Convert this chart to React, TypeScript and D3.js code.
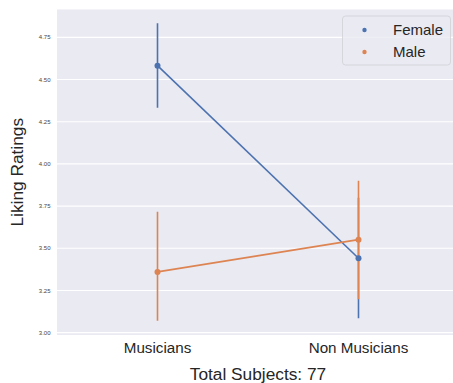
import React from "react";
import * as d3 from "d3";

const categories = ["Musicians", "Non Musicians"];
const seriesNames = ["Female", "Male"];
const femaleMeans = [4.582, 3.441];
const femaleLow = [4.333, 3.085];
const femaleHigh = [4.833, 3.80];
const maleMeans = [3.36, 3.551];
const maleLow = [3.071, 3.198];
const maleHigh = [3.717, 3.90];
const yTicks = [3.0, 3.25, 3.5, 3.75, 4.0, 4.25, 4.5, 4.75];
const colors = ["#4C72B0", "#DD8452"];

const W = 453;
const H = 383;
const left = 57;
const right = 459;
const top = 9.5;
const bottom = 335;

export default function App() {
  const x = d3.scaleBand<string>().domain(categories).range([left, right]).padding(0);
  const y = d3.scaleLinear().domain([2.986, 4.915]).range([bottom, top]);
  const cx = (c: string) => (x(c) as number) + x.bandwidth() / 2;
  const series = [
    { name: seriesNames[0], means: femaleMeans, lo: femaleLow, hi: femaleHigh, color: colors[0] },
    { name: seriesNames[1], means: maleMeans, lo: maleLow, hi: maleHigh, color: colors[1] },
  ];
  const line = d3
    .line<number>()
    .x((_, i) => cx(categories[i]))
    .y((d) => y(d));
  const font = "'Liberation Sans', Arial, sans-serif";
  return (
    <svg
      width={W}
      height={H}
      style={{ position: "absolute", left: 0, top: 0, background: "#fff" }}
      fontFamily={font}
    >
      <defs>
        <clipPath id="clipAx">
          <rect x={left} y={top} width={right - left} height={bottom - top} />
        </clipPath>
      </defs>
      <rect x={left} y={top} width={right - left} height={bottom - top} fill="#EAEAF2" />
      {yTicks.map((t) => (
        <line key={t} x1={left} x2={right} y1={y(t)} y2={y(t)} stroke="#fff" strokeWidth={1.1} />
      ))}
      {yTicks.map((t) => (
        <text
          key={"l" + t}
          x={50.5}
          y={y(t)}
          dy="0.35em"
          textAnchor="end"
          fontSize={6}
          fill="#444"
        >
          {d3.format(".2f")(t)}
        </text>
      ))}
      <g clipPath="url(#clipAx)">
        {series.map((s) =>
          s.means.map((_, i) => (
            <line
              key={s.name + "e" + i}
              x1={cx(categories[i])}
              x2={cx(categories[i])}
              y1={y(s.lo[i])}
              y2={y(s.hi[i])}
              stroke={s.color}
              strokeWidth={1.6}
            />
          ))
        )}
        {series.map((s) => (
          <path key={s.name + "l"} d={line(s.means) || ""} fill="none" stroke={s.color} strokeWidth={1.6} />
        ))}
        {series.map((s) =>
          s.means.map((m, i) => (
            <circle key={s.name + "p" + i} cx={cx(categories[i])} cy={y(m)} r={3} fill={s.color} />
          ))
        )}
      </g>
      {categories.map((c) => (
        <text key={c} x={cx(c)} y={352.5} textAnchor="middle" fontSize={15.2} fill="#262626">
          {c}
        </text>
      ))}
      <text x={(left + right) / 2} y={379.5} textAnchor="middle" fontSize={17.3} fill="#262626">
        Total Subjects: 77
      </text>
      <text
        transform={`translate(23,${(top + bottom) / 2}) rotate(-90)`}
        textAnchor="middle"
        fontSize={17.3}
        fill="#262626"
      >
        Liking Ratings
      </text>
      <g>
        <rect
          x={342.5}
          y={16}
          width={108}
          height={49}
          rx={3}
          fill="#EAEAF2"
          fillOpacity={0.8}
          stroke="#cfcfd6"
          strokeWidth={0.8}
        />
        {series.map((s, i) => (
          <g key={s.name + "leg"}>
            <circle cx={364.5} cy={30 + i * 22} r={2.2} fill={s.color} />
            <text x={393} y={30 + i * 22} dy="0.35em" fontSize={15} fill="#262626">
              {s.name}
            </text>
          </g>
        ))}
      </g>
    </svg>
  );
}
